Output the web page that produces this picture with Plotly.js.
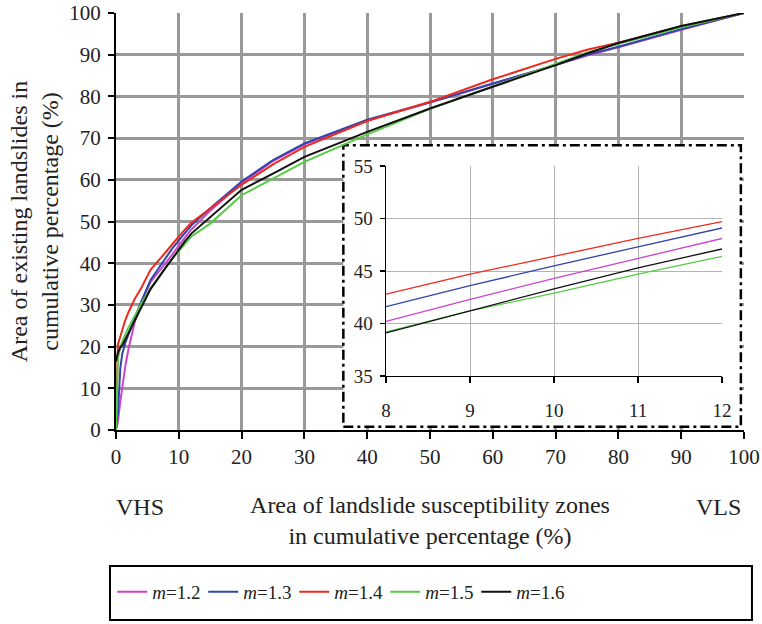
<!DOCTYPE html>
<html>
<head>
<meta charset="utf-8">
<script src="https://cdn.plot.ly/plotly-3.0.1.min.js"></script>
<style>html,body{margin:0;padding:0;background:#fff;}#chart{width:762px;height:624px;}</style>
</head>
<body>
<div id="chart"></div>
<script>
// Cumulative area of susceptibility zones (%)
const xPct = [0, 0.3, 0.7, 1, 1.5, 2, 3, 4, 5.5, 8, 9, 10, 11, 12, 15, 20, 25, 30, 40, 50, 60, 70, 75, 80, 90, 100];
// Cumulative area of existing landslides (%) for each m
const m12 = [0, 2, 7, 10.5, 15.5, 19.5, 26, 30.5, 35.5, 40.2, 42.3, 44.3, 46.2, 48.1, 52.6, 59.2, 64.5, 68.5, 74.2, 78.5, 83.0, 87.5, 89.8, 91.8, 96.0, 100];
const m13 = [0, 4, 15, 18.3, 21, 23, 27, 30.7, 36, 41.6, 43.6, 45.5, 47.3, 49.1, 53.2, 59.6, 64.7, 68.7, 74.4, 78.6, 83.1, 87.5, 90.0, 91.9, 96.1, 100];
const m14 = [0, 20.5, 22.5, 24, 26.5, 28.3, 31.5, 34, 38.4, 42.8, 44.7, 46.4, 48.1, 49.7, 53.1, 58.8, 63.7, 67.9, 74.1, 78.7, 84.1, 89.0, 91.2, 92.9, 96.8, 100];
const m15 = [0, 17, 20, 21.3, 23, 24.6, 27.5, 30.2, 34, 39.2, 41.2, 42.9, 44.7, 46.4, 49.5, 56.3, 60.3, 64.3, 70.9, 77.0, 82.4, 87.7, 90.5, 92.6, 96.6, 100];
const m16 = [16.5, 18.5, 19.8, 20.3, 21.8, 23.3, 26.3, 29.2, 33.8, 39.1, 41.2, 43.3, 45.3, 47.1, 51.0, 57.6, 61.5, 65.5, 71.5, 77.1, 82.3, 87.5, 90.3, 92.8, 96.9, 100];

const seriesNames = ['<i>m</i>=1.2', '<i>m</i>=1.3', '<i>m</i>=1.4', '<i>m</i>=1.5', '<i>m</i>=1.6'];
const seriesValues = [m12, m13, m14, m15, m16];
const seriesColors = ['#cc44cc', '#3344aa', '#ee2a1e', '#55cc44', '#111111'];

const mainTicks = [0, 10, 20, 30, 40, 50, 60, 70, 80, 90, 100];
const insetXTicks = [8, 9, 10, 11, 12];
const insetYTicks = [35, 40, 45, 50, 55];

const FONT = 'Liberation Serif, Times New Roman, serif';

const traces = [];
seriesValues.forEach((vals, i) => {
  traces.push({
    x: xPct, y: vals, type: 'scatter', mode: 'lines', name: seriesNames[i],
    line: {color: seriesColors[i], width: 2}, xaxis: 'x', yaxis: 'y', showlegend: true
  });
});
seriesValues.forEach((vals, i) => {
  traces.push({
    x: xPct, y: vals, type: 'scatter', mode: 'lines', name: seriesNames[i],
    line: {color: seriesColors[i], width: 1.3}, xaxis: 'x2', yaxis: 'y2', showlegend: false
  });
});

const layout = {
  width: 762, height: 624,
  margin: {l: 116, r: 18, t: 13, b: 194},
  paper_bgcolor: '#ffffff', plot_bgcolor: '#ffffff',
  font: {family: FONT, color: '#222', size: 20},
  showlegend: true,
  xaxis: {
    range: [0, 100], tickvals: mainTicks, ticktext: mainTicks.map(String),
    showgrid: true, gridcolor: '#999999', gridwidth: 3, zeroline: false,
    showline: true, linecolor: '#000', linewidth: 2,
    ticks: 'outside', ticklen: 7, tickwidth: 2, tickcolor: '#000',
    tickfont: {size: 21}, ticklabelstandoff: 0,
    title: {text: 'Area of landslide susceptibility zones<br>in cumulative percentage (%)', font: {size: 24}, standoff: 28},
    fixedrange: true
  },
  yaxis: {
    range: [0, 100], tickvals: mainTicks, ticktext: mainTicks.map(String),
    showgrid: true, gridcolor: '#999999', gridwidth: 3, zeroline: false,
    showline: true, linecolor: '#000', linewidth: 2,
    ticks: 'outside', ticklen: 6, tickwidth: 2, tickcolor: '#000',
    tickfont: {size: 21}, ticklabelstandoff: 3,
    title: {text: 'Area of existing landslides in<br>cumulative percentage (%)', font: {size: 24}, standoff: 4},
    fixedrange: true
  },
  xaxis2: {
    domain: [0.43, 0.965], range: [8, 12], anchor: 'y2',
    tickvals: insetXTicks, ticktext: insetXTicks.map(String),
    showgrid: true, gridcolor: '#b4b4b4', gridwidth: 1, zeroline: false,
    showline: true, linecolor: '#000', linewidth: 1.5,
    ticks: 'outside', ticklen: 6, tickwidth: 1.5, tickcolor: '#000',
    tickfont: {size: 19}, ticklabelstandoff: 11, fixedrange: true
  },
  yaxis2: {
    domain: [0.1295, 0.633], range: [35, 55], anchor: 'x2',
    tickvals: insetYTicks, ticktext: insetYTicks.map(String),
    showgrid: true, gridcolor: '#b4b4b4', gridwidth: 1, zeroline: false,
    showline: true, linecolor: '#000', linewidth: 1.5,
    ticks: 'outside', ticklen: 5, tickwidth: 1.5, tickcolor: '#000',
    tickfont: {size: 19}, ticklabelstandoff: 3, fixedrange: true
  },
  legend: {
    orientation: 'h', x: -0.006, xanchor: 'left', y: -0.388, yanchor: 'middle',
    bgcolor: 'rgba(0,0,0,0)', borderwidth: 0, font: {size: 19},
    entrywidth: 46, entrywidthmode: 'pixels', itemwidth: 30
  },
  shapes: [
    {type: 'rect', xref: 'x', yref: 'y', x0: 36.2, x1: 99.5, y0: 0.8, y1: 68.3,
     fillcolor: '#ffffff', line: {color: '#000', width: 2.5, dash: '10px,4px,3px,4px'}, layer: 'between'},
    {type: 'rect', xref: 'paper', yref: 'paper', x0: -0.0096, x1: 1.0127, y0: -0.4556, y1: -0.3261,
     fillcolor: 'rgba(0,0,0,0)', line: {color: '#000', width: 2}, layer: 'above'}
  ],
  annotations: [
    {text: 'VHS', xref: 'paper', yref: 'paper', x: 0.038, y: -0.1847, xanchor: 'center', yanchor: 'middle', showarrow: false, font: {size: 24}},
    {text: 'VLS', xref: 'paper', yref: 'paper', x: 0.9586, y: -0.1847, xanchor: 'center', yanchor: 'middle', showarrow: false, font: {size: 24}}
  ]
};

Plotly.newPlot('chart', traces, layout, {displayModeBar: false, staticPlot: true});
</script>
</body>
</html>
